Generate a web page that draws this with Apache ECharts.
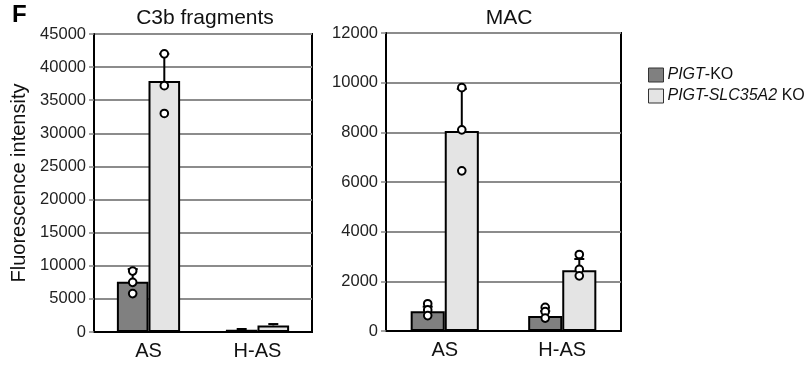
<!DOCTYPE html>
<html><head><meta charset="utf-8">
<script src="https://cdn.jsdelivr.net/npm/echarts@6/dist/echarts.min.js"></script>
<style>html,body{margin:0;padding:0;background:#fff}#c{width:811px;height:366px}</style>
</head><body><div id="c"></div>
<script>
const categories = ['AS', 'H-AS'];
const seriesNames = ['PIGT-KO', 'PIGT-SLC35A2 KO'];
// C3b fragments
const c3bKoMean = [7600, 350];
const c3bSlcMean = [37900, 1000];
const c3bKoErrTop = [9500, 450];
const c3bSlcErrTop = [42000, 1200];
const c3bKoPointsAS = [9200, 7500, 5800];
const c3bSlcPointsAS = [42000, 37200, 33000];
// MAC
const macKoMean = [800, 600];
const macSlcMean = [8050, 2450];
const macKoErrTop = [980, 800];
const macSlcErrTop = [9750, 2900];
const macKoPointsAS = [1100, 850, 620];
const macKoPointsHAS = [950, 780, 520];
const macSlcPointsAS = [9800, 8100, 6450];
const macSlcPointsHAS = [3080, 2480, 2220];

const FONT = '"Liberation Sans", Arial, Helvetica, sans-serif';
const BW = 0.29;

function errData(top, mean, s) { return top.map((t, i) => [i, mean[i], t, s]); }
function ptData(arrs, s) {
  const out = [];
  arrs.forEach((a, i) => { if (a) a.forEach(v => out.push([i, v, s])); });
  return out;
}
function offX(api, s) { const cw = api.size([1, 0])[0]; return (s === 0 ? -1 : 1) * cw * BW / 2; }
function renderErr(params, api) {
  const s = api.value(3);
  const b = api.coord([api.value(0), api.value(1)]);
  const t = api.coord([api.value(0), api.value(2)]);
  const x = b[0] + offX(api, s);
  return { type: 'group', children: [
    { type: 'line', shape: { x1: x, y1: b[1], x2: x, y2: t[1] }, style: { stroke: '#000', lineWidth: 2 } },
    { type: 'line', shape: { x1: x - 5, y1: t[1], x2: x + 5, y2: t[1] }, style: { stroke: '#000', lineWidth: 2 } }
  ]};
}
function renderPt(params, api) {
  const s = api.value(2);
  const p = api.coord([api.value(0), api.value(1)]);
  return { type: 'circle', shape: { cx: p[0] + offX(api, s), cy: p[1], r: 3.8 }, style: { fill: '#fff', stroke: '#000', lineWidth: 2 } };
}

function yAxis(gi, max, interval, margin) {
  return { type: 'value', gridIndex: gi, min: 0, max: max, interval: interval,
    axisLine: { show: true, lineStyle: { color: '#000', width: 2 } },
    axisTick: { show: true, length: 5, lineStyle: { color: '#888', width: 1.5 } },
    axisLabel: { color: '#222', fontSize: 16.5, fontFamily: FONT, margin: margin, formatter: v => String(v) },
    splitLine: { show: true, lineStyle: { color: '#8c8c8c', width: 2 } } };
}
function xAxis(gi) {
  return { type: 'category', gridIndex: gi, data: categories,
    axisLine: { show: true, lineStyle: { color: '#000', width: 2 } },
    axisTick: { show: false },
    axisLabel: { color: '#111', fontSize: 20, fontFamily: FONT, margin: 9 } };
}
function bar(name, data, gi, color) {
  return { type: 'bar', name: name, xAxisIndex: gi, yAxisIndex: gi, data: data,
    barWidth: (BW * 100) + '%', barGap: '0%', z: 2,
    itemStyle: { color: color, borderColor: '#000', borderWidth: 2 } };
}
function custom(gi, data, fn, z) {
  return { type: 'custom', xAxisIndex: gi, yAxisIndex: gi, data: data, renderItem: fn, z: z, silent: true };
}

const chart = echarts.init(document.getElementById('c'));
chart.setOption({
  animation: false,
  backgroundColor: '#fff',
  grid: [
    { left: 94, top: 34, width: 218, height: 298, show: true, borderColor: '#000', borderWidth: 2, backgroundColor: 'transparent' },
    { left: 386, top: 33, width: 235, height: 298, show: true, borderColor: '#000', borderWidth: 2, backgroundColor: 'transparent' }
  ],
  title: [
    { text: 'C3b fragments', left: 200, top: 3, textAlign: 'center', textStyle: { fontSize: 21, fontWeight: 'normal', color: '#111', fontFamily: FONT } },
    { text: 'MAC', left: 504, top: 3, textAlign: 'center', textStyle: { fontSize: 21, fontWeight: 'normal', color: '#111', fontFamily: FONT } }
  ],
  graphic: [
    { type: 'text', left: 12, top: 3, style: { text: 'F', font: 'bold 24px ' + FONT, fill: '#000' } },
    { type: 'text', x: 19, y: 183, rotation: Math.PI / 2, style: { text: 'Fluorescence intensity', font: '20px ' + FONT, fill: '#111', textAlign: 'center', textVerticalAlign: 'middle' } }
  ],
  legend: {
    data: seriesNames.map(n => ({ name: n, icon: 'rect' })), orient: 'vertical', left: 643, top: 62,
    itemWidth: 15, itemHeight: 14, itemGap: 5,
    formatter: n => n === 'PIGT-KO' ? '{i|PIGT}{n|-KO}' : '{i|PIGT-SLC35A2}{n| KO}',
    textStyle: { color: '#111', fontSize: 16, fontFamily: FONT, padding: [0, 0, 0, -1],
      rich: { i: { fontStyle: 'italic', fontSize: 16, fontFamily: FONT, color: '#111' }, n: { fontSize: 16, fontFamily: FONT, color: '#111' } } },
    itemStyle: { borderColor: '#333', borderWidth: 1 }
  },
  xAxis: [xAxis(0), xAxis(1)],
  yAxis: [yAxis(0, 45000, 5000, 8), yAxis(1, 12000, 2000, 8)],
  series: [
    bar(seriesNames[0], c3bKoMean, 0, '#808080'),
    bar(seriesNames[1], c3bSlcMean, 0, '#e4e4e4'),
    bar(seriesNames[0], macKoMean, 1, '#808080'),
    bar(seriesNames[1], macSlcMean, 1, '#e4e4e4'),
    custom(0, errData(c3bKoErrTop, c3bKoMean, 0).concat(errData(c3bSlcErrTop, c3bSlcMean, 1)), renderErr, 3),
    custom(1, errData(macKoErrTop, macKoMean, 0).concat(errData(macSlcErrTop, macSlcMean, 1)), renderErr, 3),
    custom(0, ptData([c3bKoPointsAS, null], 0).concat(ptData([c3bSlcPointsAS, null], 1)), renderPt, 4),
    custom(1, ptData([macKoPointsAS, macKoPointsHAS], 0).concat(ptData([macSlcPointsAS, macSlcPointsHAS], 1)), renderPt, 4)
  ]
});
</script></body></html>
